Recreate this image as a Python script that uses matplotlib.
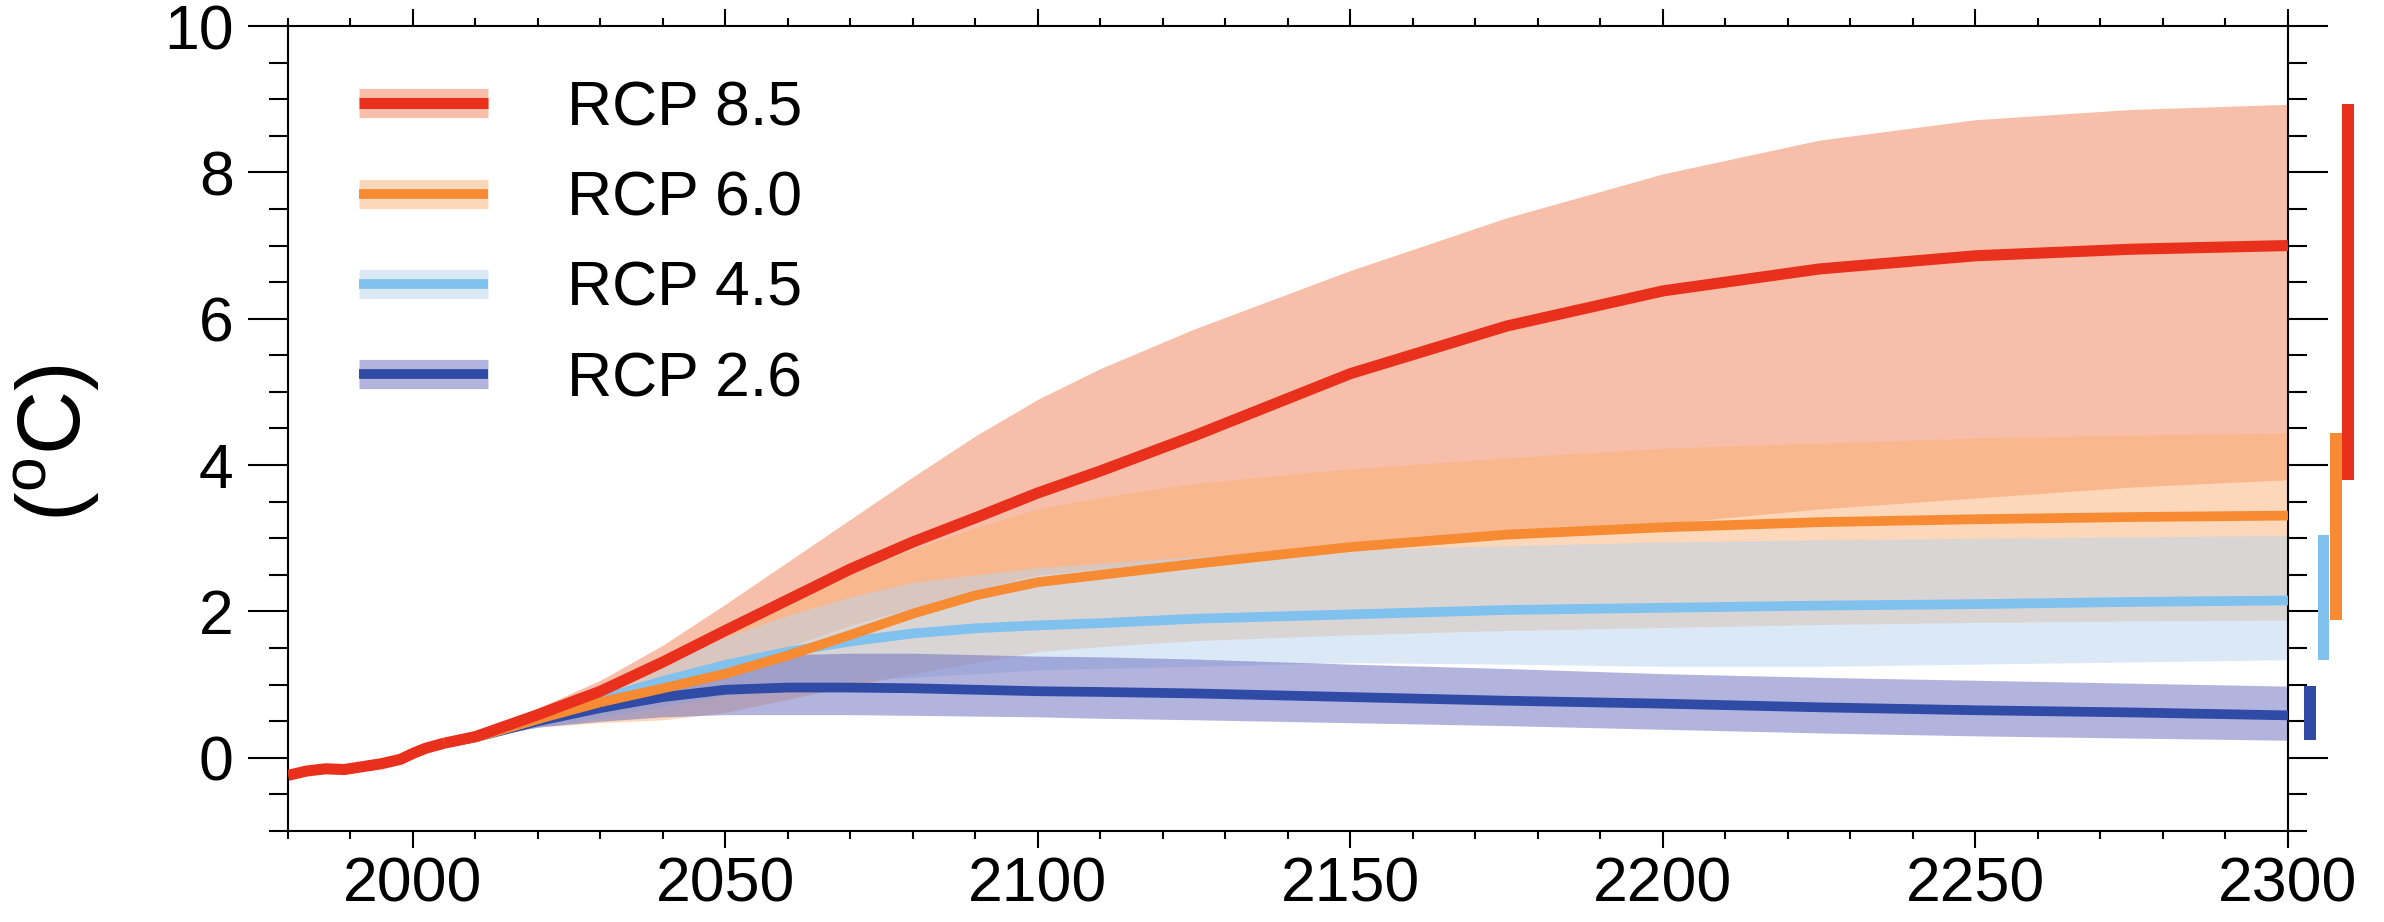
import matplotlib
matplotlib.use('Agg')
import matplotlib.pyplot as plt
from matplotlib.lines import Line2D
from matplotlib.ticker import MultipleLocator

plt.rcParams['font.family'] = ['Liberation Sans', 'DejaVu Sans']
plt.rcParams['mathtext.fontset'] = 'custom'
plt.rcParams['mathtext.rm'] = 'Liberation Sans'

# historical run (shared start of all scenarios)
hist_years = [1980, 1983, 1986, 1989, 1992, 1995, 1998, 2000, 2002, 2005]
hist = [-0.24, -0.18, -0.15, -0.16, -0.12, -0.08, -0.02, 0.06, 0.13, 0.20]
hist_lo = [-0.30, -0.24, -0.21, -0.21, -0.17, -0.13, -0.07, 0.01, 0.09, 0.17]
hist_hi = [-0.17, -0.12, -0.10, -0.11, -0.08, -0.04, 0.02, 0.10, 0.17, 0.23]

# projections
years = [2005, 2010, 2020, 2030, 2040, 2050, 2060, 2070, 2080, 2090, 2100,
         2110, 2125, 2150, 2175, 2200, 2225, 2250, 2275, 2300]

rcp85 = [0.20, 0.29, 0.59, 0.91, 1.31, 1.74, 2.16, 2.58, 2.95, 3.28, 3.62,
         3.92, 4.40, 5.25, 5.90, 6.38, 6.68, 6.86, 6.95, 7.00]
rcp85_hi = [0.20, 0.31, 0.68, 1.06, 1.54, 2.10, 2.68, 3.26, 3.84, 4.40, 4.90,
            5.32, 5.86, 6.66, 7.38, 7.98, 8.44, 8.72, 8.86, 8.93]
rcp85_lo = [0.20, 0.27, 0.50, 0.75, 1.00, 1.24, 1.52, 1.81, 2.05, 2.30, 2.50,
            2.58, 2.70, 2.85, 3.00, 3.20, 3.40, 3.55, 3.70, 3.80]

rcp60 = [0.20, 0.28, 0.53, 0.76, 0.95, 1.15, 1.40, 1.68, 1.97, 2.22, 2.40,
         2.50, 2.65, 2.88, 3.05, 3.15, 3.22, 3.26, 3.29, 3.31]
rcp60_hi = [0.20, 0.30, 0.60, 0.95, 1.30, 1.70, 2.10, 2.50, 2.85, 3.15, 3.40,
            3.56, 3.75, 3.95, 4.10, 4.23, 4.30, 4.37, 4.41, 4.44]
rcp60_lo = [0.20, 0.26, 0.42, 0.48, 0.52, 0.62, 0.80, 0.98, 1.15, 1.30, 1.45,
            1.52, 1.60, 1.68, 1.74, 1.78, 1.82, 1.85, 1.87, 1.88]

rcp45 = [0.20, 0.28, 0.53, 0.80, 1.05, 1.27, 1.45, 1.59, 1.70, 1.77, 1.81,
         1.84, 1.90, 1.96, 2.02, 2.05, 2.08, 2.10, 2.13, 2.15]
rcp45_hi = [0.20, 0.30, 0.60, 0.95, 1.30, 1.65, 1.95, 2.20, 2.40, 2.50, 2.60,
            2.66, 2.75, 2.85, 2.90, 2.95, 2.98, 3.00, 3.02, 3.04]
rcp45_lo = [0.20, 0.26, 0.42, 0.55, 0.70, 0.85, 0.95, 1.05, 1.10, 1.15, 1.20,
            1.22, 1.25, 1.30, 1.28, 1.25, 1.25, 1.28, 1.31, 1.34]

rcp26 = [0.20, 0.28, 0.50, 0.68, 0.83, 0.93, 0.96, 0.96, 0.95, 0.93, 0.91,
         0.90, 0.88, 0.83, 0.78, 0.74, 0.69, 0.65, 0.62, 0.58]
rcp26_hi = [0.20, 0.30, 0.58, 0.85, 1.10, 1.32, 1.41, 1.43, 1.43, 1.41, 1.39,
            1.38, 1.35, 1.28, 1.22, 1.15, 1.10, 1.06, 1.02, 0.98]
rcp26_lo = [0.20, 0.26, 0.42, 0.50, 0.56, 0.59, 0.59, 0.59, 0.58, 0.57, 0.56,
            0.54, 0.52, 0.48, 0.44, 0.39, 0.34, 0.30, 0.27, 0.24]

labels = ['RCP 8.5', 'RCP 6.0', 'RCP 4.5', 'RCP 2.6']
means = [rcp85, rcp60, rcp45, rcp26]
highs = [rcp85_hi, rcp60_hi, rcp45_hi, rcp26_hi]
lows = [rcp85_lo, rcp60_lo, rcp45_lo, rcp26_lo]
line_colors = ['#e8301c', '#f68b33', '#80c1ee', '#2f4ba6']
band_colors = ['#f18155', '#fbb175', '#b9d5f1', '#676bbf']
line_widths = [8, 7, 7, 7]
bar_x = [2309.6, 2307.7, 2305.7, 2303.6]


def main():
    fig = plt.figure(figsize=(23.84, 9.22), dpi=100)
    ax = fig.add_axes([0.1208, 0.0987, 0.8389, 0.8731])

    ax.fill_between(hist_years, hist_lo, hist_hi, color='#8a8ab0',
                    alpha=0.45, lw=0, zorder=1)

    for i in range(4):
        ax.fill_between(years, lows[i], highs[i], color=band_colors[i],
                        alpha=0.5, lw=0, zorder=1 + 0.1 * i)

    for i in reversed(range(4)):
        ax.plot(years, means[i], color=line_colors[i], lw=line_widths[i],
                solid_capstyle='butt', zorder=3 + 0.1 * (3 - i))
    ax.plot(hist_years, hist, color=line_colors[0], lw=line_widths[0],
            solid_capstyle='butt', zorder=3.5)

    # ranges at 2300, drawn just outside the frame
    for i in range(4):
        ax.bar(bar_x[i], highs[i][-1] - lows[i][-1], bottom=lows[i][-1],
               width=1.9, color=line_colors[i], lw=0, clip_on=False, zorder=2)

    ax.set_xlim(1980, 2300)
    ax.set_ylim(-1, 10)
    ax.xaxis.set_major_locator(MultipleLocator(50))
    ax.xaxis.set_minor_locator(MultipleLocator(10))
    ax.yaxis.set_major_locator(MultipleLocator(2))
    ax.yaxis.set_minor_locator(MultipleLocator(0.5))
    ax.tick_params(axis='x', which='major', length=12, width=1.5, top=True,
                   labelsize=45, pad=6)
    ax.tick_params(axis='x', which='minor', length=6, width=1.5, top=True)
    ax.tick_params(axis='y', which='major', length=29, width=1.5, right=True,
                   labelsize=45, pad=10)
    ax.tick_params(axis='y', which='minor', length=14, width=1.5, right=True)
    for s in ax.spines.values():
        s.set_linewidth(1.5)

    ax.set_ylabel(r'($^{\mathrm{o}}$C)', fontsize=64)
    ax.yaxis.set_label_coords(-0.093, 0.482)

    handles = []
    for i in range(4):
        band = Line2D([], [], color=band_colors[i], alpha=0.5, lw=21,
                      solid_capstyle='butt')
        line = Line2D([], [], color=line_colors[i], lw=line_widths[i],
                      solid_capstyle='butt')
        handles.append((band, line))
    ax.legend(handles, labels, loc='upper left',
              bbox_to_anchor=(0.1506, 0.914), bbox_transform=fig.transFigure,
              frameon=False, fontsize=45, handlelength=2.06,
              handletextpad=1.26, labelspacing=0.5, borderpad=0,
              borderaxespad=0)

    fig.savefig('out.png', dpi=100)


if __name__ == '__main__':
    main()
